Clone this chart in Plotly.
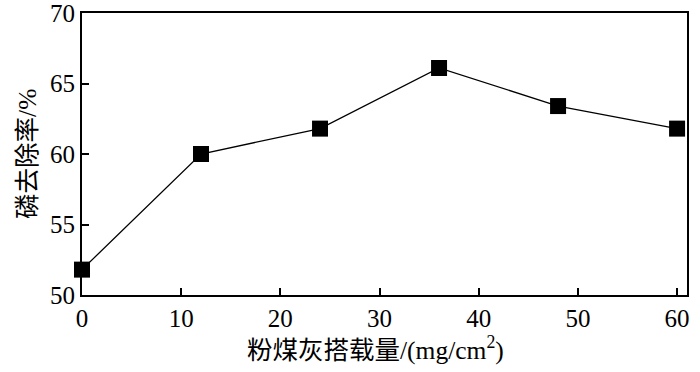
import plotly.graph_objects as go

loading = [0, 12, 24, 36, 48, 60]
removal = [51.8, 60.0, 61.8, 66.1, 63.4, 61.8]
x_ticks = [0, 10, 20, 30, 40, 50, 60]
y_ticks = [50, 55, 60, 65, 70]

fig = go.Figure()
fig.add_trace(go.Scatter(
    x=loading, y=removal, mode="lines+markers",
    line=dict(color="black", width=1.3),
    marker=dict(symbol="square", size=16, color="black"),
    cliponaxis=False, showlegend=False,
))

serif = "Liberation Serif, Times New Roman, serif"
cjk = "Liberation Serif, Noto Sans CJK SC"
fig.update_layout(
    width=700, height=372,
    margin=dict(l=82, r=13, t=13, b=77),
    paper_bgcolor="white", plot_bgcolor="white",
    font=dict(family=serif, size=25, color="black"),
    annotations=[
        dict(text="粉煤灰搭载量/(mg/cm<sup>2</sup>)", xref="paper", yref="paper",
             x=0.485, y=-0.188, xanchor="center", yanchor="middle", showarrow=False,
             font=dict(size=25.5, family=cjk)),
        dict(text="磷去除率/%", xref="paper", yref="paper", textangle=-90,
             x=-0.091, y=0.5, xanchor="center", yanchor="middle", showarrow=False,
             font=dict(size=25.5, family=cjk)),
    ],
)
fig.update_xaxes(
    range=[0, 61], tickvals=x_ticks, ticks="inside", ticklen=7, tickwidth=1.5,
    tickcolor="black", showline=True, linecolor="black", linewidth=2, mirror=True,
    showgrid=False, zeroline=False, automargin=False, ticklabeloverflow="allow",
    tickfont=dict(size=25, family=serif),
)
fig.update_yaxes(
    range=[50, 70], tickvals=y_ticks, ticks="inside", ticklen=7, tickwidth=1.5,
    tickcolor="black", showline=True, linecolor="black", linewidth=2, mirror=True,
    showgrid=False, zeroline=False, automargin=False, ticklabeloverflow="allow",
    tickfont=dict(size=25, family=serif),
)
fig.write_html("out.html", config={"displayModeBar": False},
               post_script="document.body.style.margin='0';document.body.style.overflow='hidden';")
